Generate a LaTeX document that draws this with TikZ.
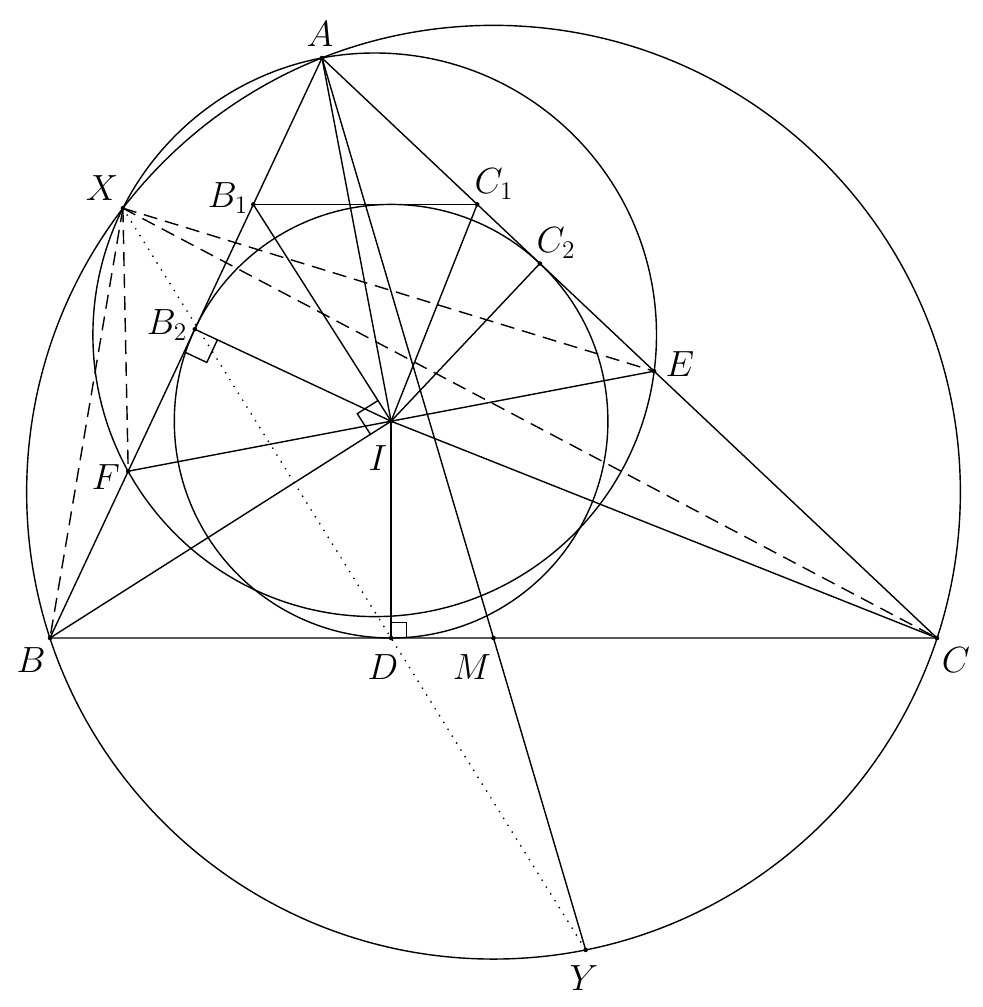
\documentclass[tikz,border=0pt]{standalone}
\usetikzlibrary{calc}
\begin{document}
\begin{tikzpicture}
      [%%%%%%%%%%%%%%%%%%%%%%%%%%%%%%
      x=0.02cm,y=-0.02cm,
      line width=0.8pt,
      lbl/.style={font=\huge,inner sep=0pt},
      dashline/.style={dash pattern=on 8pt off 4.5pt},
      dotline/.style={line width=1.1pt,line cap=round,dash pattern=on 0pt off 4.6pt},
      ]%%%%%%%%%%%%%%%%%%%%%%%%%%%%%%
      \useasboundingbox (0,0) rectangle (983,1007);

      % points
      \coordinate (A) at (322,58);
      \coordinate (B) at (50,638);
      \coordinate (C) at (937,638);
      \coordinate (I) at (391.1,421.2);
      \coordinate (D) at (391.1,638);
      \coordinate (M) at (493.5,638);
      \coordinate (B1) at (253.3,204.4);
      \coordinate (C1) at (477.2,204.4);
      \coordinate (B2) at (194.8,329.2);
      \coordinate (C2) at (539.9,263.5);
      \coordinate (E) at (654.1,371.2);
      \coordinate (F) at (128.2,471.2);
      \coordinate (X) at (122.9,208.2);
      \coordinate (Y) at (585.7,949.9);
      \coordinate (O) at (493.5,492.2);
      \coordinate (K) at (374.7,334.8);

      % circles
      \draw (O) circle[radius=466.85];
      \draw (K) circle[radius=281.8];
      \draw (I) circle[radius=216.8];

      % lines
      \draw (A) -- (B) -- (C) -- cycle;
      \draw (B1) -- (C1);
      \draw (A) -- (I);
      \draw (A) -- (M) -- (Y);
      \draw (F) -- (I) -- (E);
      \draw (I) -- (B1);
      \draw (I) -- (C1);
      \draw (I) -- (C2);
      \draw (I) -- (B2);
      \draw (I) -- (D);
      \draw (I) -- (B);
      \draw (I) -- (C);

      \draw[dashline] (X) -- (B);
      \draw[dashline] (X) -- (F);
      \draw[dashline] (X) -- (E);
      \draw[dashline] (X) -- (C);
      \draw[dotline] (X) -- (D) -- (Y);

      % right angles
      \coordinate (d1) at ($(D)!0.31cm!(I)$);
      \coordinate (d2) at ($(D)!0.31cm!(C)$);
      \draw (d1) -- ($(d1)+(d2)-(D)$) -- (d2);
      \coordinate (b1) at ($(B2)!0.5cm!(I)$);
      \coordinate (b2) at ($(B2)!0.5cm!(B)$);
      \draw (b1) -- ($(b1)+(b2)-(B2)$) -- (b2);
      \coordinate (i1) at ($(I)!0.49cm!(B1)$);
      \coordinate (i2) at ($(I)!0.49cm!(B)$);
      \draw (i1) -- ($(i1)+(i2)-(I)$) -- (i2);

      % dots
      \foreach \p in {A,B,C,I,D,M,B1,C1,B2,C2,E,F,X,Y}
        \fill (\p) circle[radius=1.3pt];

      % labels
      \node[lbl] (lA) at (320,34) {$A$};
      \node[lbl] (lX) at (102,188) {$X$};
      \node[lbl] (lB1) at (228,198) {$B_1$};
      \node[lbl] (lC1) at (494,184) {$C_1$};
      \node[lbl] (lC2) at (556,243) {$C_2$};
      \node[lbl] (lB2) at (167,325) {$B_2$};
      \node[lbl] (lE) at (680,364) {$E$};
      \node[lbl] (lF) at (106,477) {$F$};
      \node[lbl] (lI) at (378,458) {$I$};
      \node[lbl] (lB) at (31,660) {$B$};
      \node[lbl] (lD) at (383,667) {$D$};
      \node[lbl] (lM) at (472,667) {$M$};
      \node[lbl] (lC) at (956,660) {$C$};
      \node[lbl] (lY) at (584,978) {$Y$};
    \end{tikzpicture}
\end{document}
